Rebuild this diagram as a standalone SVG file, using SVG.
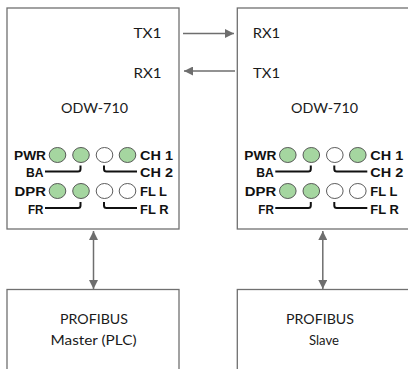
<svg xmlns="http://www.w3.org/2000/svg" width="408" height="369" viewBox="0 0 408 369">
<defs>
<style>
.box{fill:#fff;stroke:#707070;stroke-width:1.3}
.t{font-family:Lato,"Open Sans",sans-serif;font-size:13px;fill:#1a1a1a}
.b{font-family:"Liberation Sans",Arial,sans-serif;font-weight:bold;font-size:13px;fill:#111}
.led{stroke:#4a4a4a;stroke-width:0.9}
.on{fill:#a5d6a0}
.off{fill:#fff}
.br{fill:none;stroke:#111;stroke-width:2;stroke-linejoin:round}
.c{fill:none;stroke:#6e6e6e;stroke-width:1.5}
</style>
<marker id="ah" viewBox="0 0 10 10" refX="10" refY="5" markerWidth="9" markerHeight="9" markerUnits="userSpaceOnUse" orient="auto-start-reverse">
<path d="M0,0 L10,5 L0,10 z" fill="#6e6e6e"/>
</marker>
<g id="panel">
<text class="b" x="46" y="160" text-anchor="end" textLength="32" lengthAdjust="spacingAndGlyphs">PWR</text>
<text class="b" x="43.5" y="177" text-anchor="end" textLength="17.5" lengthAdjust="spacingAndGlyphs">BA</text>
<text class="b" x="46" y="196" text-anchor="end" textLength="31.5" lengthAdjust="spacingAndGlyphs">DPR</text>
<text class="b" x="43.5" y="213.5" text-anchor="end" textLength="15.5" lengthAdjust="spacingAndGlyphs">FR</text>
<text class="b" x="140" y="160" textLength="33" lengthAdjust="spacingAndGlyphs">CH 1</text>
<text class="b" x="140" y="177" textLength="33" lengthAdjust="spacingAndGlyphs">CH 2</text>
<text class="b" x="140" y="196" textLength="27" lengthAdjust="spacingAndGlyphs">FL L</text>
<text class="b" x="140" y="213.5" textLength="28.5" lengthAdjust="spacingAndGlyphs">FL R</text>
<ellipse class="led on" cx="57.5" cy="155" rx="8.3" ry="7.5"/>
<ellipse class="led on" cx="81" cy="155" rx="8.3" ry="7.5"/>
<ellipse class="led off" cx="104.5" cy="155" rx="8.3" ry="7.5"/>
<ellipse class="led on" cx="127.5" cy="155" rx="8.3" ry="7.5"/>
<ellipse class="led on" cx="57.5" cy="191" rx="8.3" ry="7.5"/>
<ellipse class="led on" cx="81" cy="191" rx="8.3" ry="7.5"/>
<ellipse class="led off" cx="104.5" cy="191" rx="8.3" ry="7.5"/>
<ellipse class="led off" cx="127.5" cy="191" rx="8.3" ry="7.5"/>
<path class="br" d="M45,171.5 H78 Q80.5,171.5 80.5,169 V165.5"/>
<path class="br" d="M104,165.5 V169 Q104,171.5 106.5,171.5 H137"/>
<path class="br" d="M45,208 H78 Q80.5,208 80.5,205.5 V202"/>
<path class="br" d="M104,202 V205.5 Q104,208 106.5,208 H137"/>
</g>
</defs>
<g id="odw-left">
<rect class="box" x="7" y="8" width="172" height="221"/>
<text class="t" x="161.5" y="37.5" text-anchor="end" textLength="28" lengthAdjust="spacingAndGlyphs">TX1</text>
<text class="t" x="161.5" y="77.5" text-anchor="end" textLength="28" lengthAdjust="spacingAndGlyphs">RX1</text>
<text class="t" x="94.5" y="112.5" text-anchor="middle" textLength="67" lengthAdjust="spacingAndGlyphs">ODW-710</text>
<use href="#panel"/>
</g>
<g id="odw-right">
<rect class="box" x="237.3" y="8" width="172" height="221"/>
<text class="t" x="252.7" y="37.5" textLength="27.5" lengthAdjust="spacingAndGlyphs">RX1</text>
<text class="t" x="253" y="77.5" textLength="27" lengthAdjust="spacingAndGlyphs">TX1</text>
<text class="t" x="324.5" y="112.5" text-anchor="middle" textLength="67" lengthAdjust="spacingAndGlyphs">ODW-710</text>
<use href="#panel" transform="translate(230.3,0)"/>
</g>
<g id="profibus-master">
<rect class="box" x="7" y="289.5" width="172" height="100"/>
<text class="t" x="94" y="323.5" text-anchor="middle" textLength="68" lengthAdjust="spacingAndGlyphs">PROFIBUS</text>
<text class="t" x="93.5" y="345" text-anchor="middle" textLength="86" lengthAdjust="spacingAndGlyphs">Master (PLC)</text>
</g>
<g id="profibus-slave">
<rect class="box" x="237.3" y="289.5" width="172" height="100"/>
<text class="t" x="320" y="323.5" text-anchor="middle" textLength="68" lengthAdjust="spacingAndGlyphs">PROFIBUS</text>
<text class="t" x="324" y="345" text-anchor="middle" textLength="30" lengthAdjust="spacingAndGlyphs">Slave</text>
</g>
<g id="connectors">
<line class="c" x1="183" y1="33.5" x2="234" y2="33.5" marker-end="url(#ah)"/>
<line class="c" x1="235" y1="71" x2="184" y2="71" marker-end="url(#ah)"/>
<line class="c" x1="93.5" y1="231" x2="93.5" y2="289" marker-start="url(#ah)" marker-end="url(#ah)"/>
<line class="c" x1="322.8" y1="231" x2="322.8" y2="289" marker-start="url(#ah)" marker-end="url(#ah)"/>
</g>
</svg>
